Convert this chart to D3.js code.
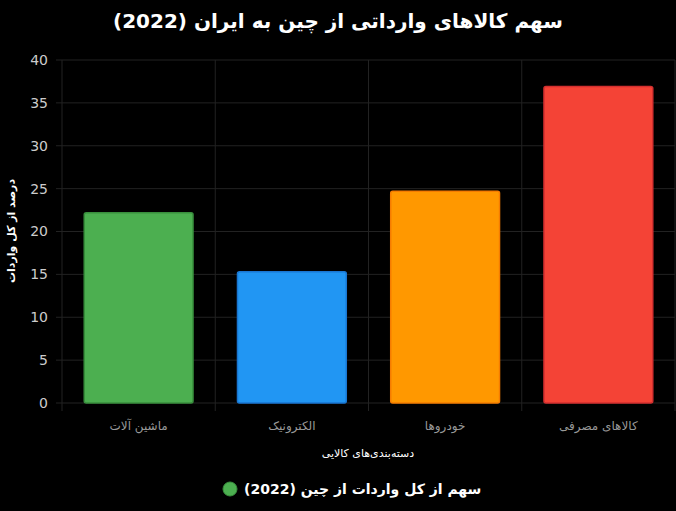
<!DOCTYPE html>
<html lang="fa">
<head>
<meta charset="UTF-8">
<title>chart</title>
<style>
  body { margin: 0; background: #000; }
  svg { display: block; font-family: "DejaVu Sans", sans-serif; }
</style>
</head>
<body>
<script src="https://d3js.org/d3.v7.min.js"></script>
<script>
const categories = ["ماشین آلات", "الکترونیک", "خودروها", "کالاهای مصرفی"];
const values = [22.2, 15.3, 24.7, 36.9];
const colors = ["#4CAF50", "#2196F3", "#FF9800", "#F44336"];
const borders = ["#388E3C", "#1976D2", "#F57C00", "#D32F2F"];
const yTicks = [0, 5, 10, 15, 20, 25, 30, 35, 40];

const width = 676, height = 511;
const plotLeft = 62, plotRight = 675, plotTop = 60, plotBottom = 403;

const svg = d3.select("body").append("svg")
    .attr("width", width).attr("height", height);
svg.append("rect").attr("width", width).attr("height", height).attr("fill", "#000");

const x = d3.scaleBand().domain(categories).range([plotLeft, plotRight]).paddingInner(0.29).paddingOuter(0.145);
const xGrid = d3.scaleBand().domain(categories).range([plotLeft, plotRight]);
const y = d3.scaleLinear().domain([0, 40]).range([plotBottom, plotTop]);

// grid
svg.append("g").selectAll("line").data(yTicks).enter().append("line")
    .attr("x1", plotLeft - 6).attr("x2", plotRight)
    .attr("y1", d => y(d)).attr("y2", d => y(d))
    .attr("stroke", "#222").attr("stroke-width", 1);
const vx = categories.map(c => xGrid(c)).concat([plotRight]);
svg.append("g").selectAll("line").data(vx).enter().append("line")
    .attr("x1", d => d).attr("x2", d => d)
    .attr("y1", plotTop).attr("y2", plotBottom + 8)
    .attr("stroke", "#222").attr("stroke-width", 1);

// y axis labels
svg.append("g").selectAll("text").data(yTicks).enter().append("text")
    .attr("x", plotLeft - 14).attr("y", d => y(d)).attr("dy", "0.35em")
    .attr("text-anchor", "end").attr("fill", "#ccc").attr("font-size", 14)
    .text(d => d);

// bars
svg.append("g").selectAll("rect").data(values).enter().append("rect")
    .attr("x", (d, i) => x(categories[i]))
    .attr("y", d => y(d))
    .attr("width", x.bandwidth())
    .attr("height", d => plotBottom - y(d))
    .attr("rx", 2)
    .attr("fill", (d, i) => colors[i])
    .attr("stroke", (d, i) => borders[i]).attr("stroke-width", 1.5);

// x labels
svg.append("g").selectAll("text").data(categories).enter().append("text")
    .attr("x", d => x(d) + x.bandwidth() / 2).attr("y", 430)
    .attr("text-anchor", "middle").attr("fill", "#999").attr("font-size", 12)
    .text(d => d);

svg.append("text").attr("x", 368).attr("y", 457).attr("text-anchor", "middle")
    .attr("fill", "#fff").attr("font-size", 11).text("دسته‌بندی‌های کالایی");

svg.append("text").attr("transform", "translate(15,231) rotate(-90)")
    .attr("text-anchor", "middle").attr("fill", "#fff").attr("font-size", 11).attr("font-weight", "bold")
    .text("درصد از کل واردات");

svg.append("text").attr("x", 338).attr("y", 28).attr("text-anchor", "middle")
    .attr("fill", "#fff").attr("font-size", 20).attr("font-weight", "bold")
    .text("سهم کالاهای وارداتی از چین به ایران (2022)");

// legend
svg.append("circle").attr("cx", 230).attr("cy", 489).attr("r", 7)
    .attr("fill", "#4CAF50").attr("stroke", "#388E3C");
svg.append("text").attr("x", 244).attr("y", 494).attr("text-anchor", "start")
    .attr("fill", "#fff").attr("font-size", 14).attr("font-weight", "bold")
    .text("سهم از کل واردات از چین (2022)");
</script>
</body>
</html>
